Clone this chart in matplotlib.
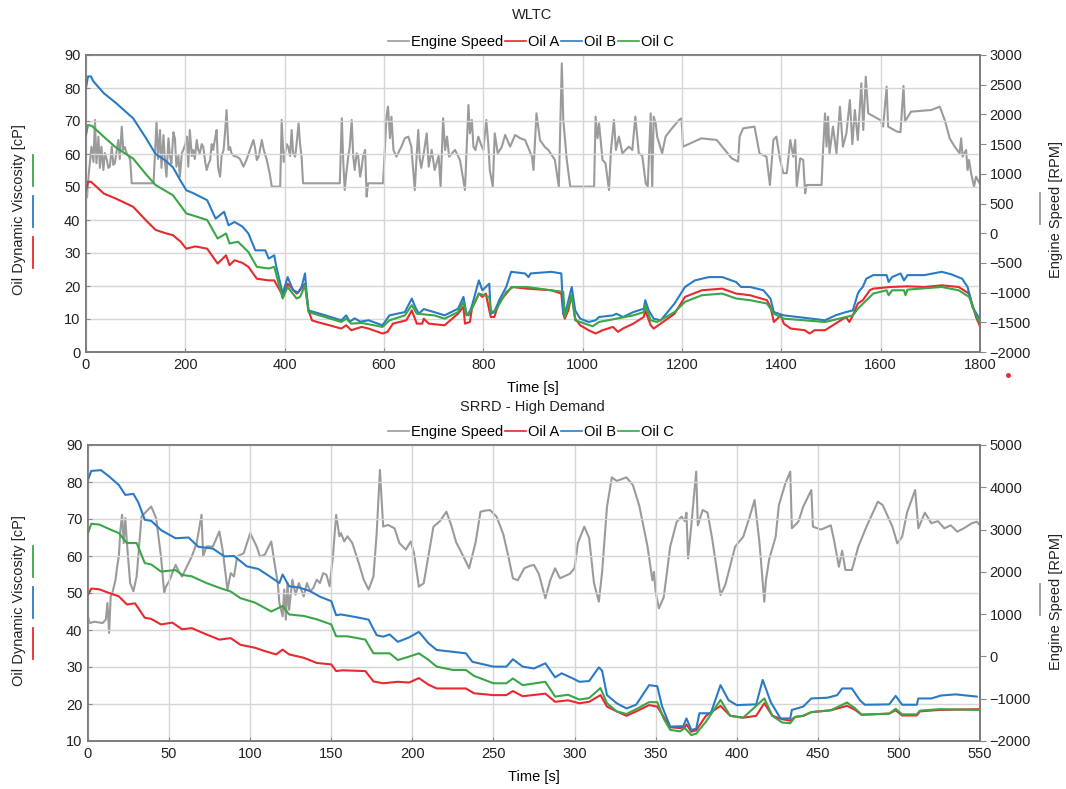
import matplotlib
matplotlib.use('Agg')
import matplotlib.pyplot as plt
from matplotlib.lines import Line2D

plt.rcParams['font.family'] = ['Liberation Sans', 'DejaVu Sans']
plt.rcParams['font.size'] = 10.5

# ---- WLTC (time [s], value) ----
wltc_speed = [(0, 900), (2, 600), (5, 950), (11, 1456), (15, 1200), (18, 1906), (21, 1177), (25, 1626), (28, 1100),
              (31, 1457), (35, 1064), (38, 1350), (42, 1233), (45, 1100), (48, 1120), (52, 1457), (55, 1150),
              (58, 1177), (62, 1400), (65, 1569), (68, 1250), (72, 1794), (75, 1401), (78, 1450), (82, 1345),
              (86, 1300), (89, 1233), (92, 840), (136, 840), (142, 1878), (145, 1250), (149, 1737), (152, 1100),
              (156, 1653), (159, 1200), (162, 952), (166, 1597), (169, 1300), (172, 1177), (176, 1700), (179, 1597),
              (182, 1120), (186, 1300), (189, 952), (193, 1350), (196, 1401), (200, 1500), (203, 1626), (206, 1120),
              (209, 1737), (213, 1300), (216, 1401), (219, 1250), (223, 1569), (226, 1400), (229, 1345), (233, 1500),
              (236, 1457), (240, 1200), (243, 1064), (246, 1150), (250, 1233), (253, 1500), (256, 1401), (260, 1600),
              (263, 1737), (266, 1100), (270, 952), (273, 1300), (277, 1401), (280, 1700), (283, 2074), (287, 1401),
              (290, 1450), (293, 1345), (298, 1300), (303, 1289), (310, 1250), (317, 1120), (323, 1233), (330, 1400),
              (337, 1569), (340, 1450), (344, 1233), (348, 1300), (354, 1569), (358, 1400), (364, 1233), (370, 1000),
              (374, 784), (391, 784), (394, 1906), (398, 1200), (401, 1345), (404, 1500), (407, 1457), (411, 1300),
              (414, 1737), (417, 1350), (421, 1289), (424, 1500), (428, 1850), (431, 1500), (434, 1289), (437, 840),
              (511, 840), (515, 1935), (518, 1200), (521, 728), (524, 1000), (528, 1289), (531, 1450), (535, 1906),
              (538, 1300), (541, 1064), (545, 1345), (548, 1300), (552, 952), (555, 1100), (558, 1300), (562, 1401),
              (565, 616), (568, 840), (598, 840), (602, 1457), (605, 1962), (608, 2130), (612, 1600), (615, 1962),
              (619, 1401), (625, 1289), (635, 1457), (642, 1600), (649, 1626), (655, 1457), (662, 728), (665, 1200),
              (669, 1737), (672, 1250), (675, 1100), (680, 1345), (686, 1681), (690, 1120), (696, 1401), (702, 1064),
              (710, 1300), (714, 784), (719, 1935), (723, 1401), (727, 1626), (731, 1289), (743, 1401), (753, 1233),
              (763, 728), (770, 2158), (773, 1681), (777, 1906), (780, 1457), (784, 1400), (790, 1626), (795, 1500),
              (800, 1401), (806, 1906), (810, 1500), (813, 1064), (819, 784), (823, 1681), (829, 1345), (837, 1450),
              (844, 1654), (854, 1457), (864, 1654), (874, 1600), (884, 1569), (898, 1289), (901, 1064), (907, 2018),
              (914, 1569), (924, 1450), (931, 1401), (944, 1233), (952, 784), (958, 2860), (961, 1906), (968, 1233),
              (975, 784), (1023, 784), (1026, 1962), (1030, 1600), (1033, 1850), (1040, 1233), (1046, 1177),
              (1053, 728), (1057, 1400), (1063, 1906), (1067, 1401), (1073, 1626), (1080, 1345), (1093, 1457),
              (1100, 1401), (1106, 1962), (1113, 1345), (1120, 1300), (1127, 840), (1131, 784), (1137, 2018),
              (1140, 784), (1143, 1962), (1147, 1850), (1150, 1626), (1160, 1345), (1167, 1626), (1177, 1737),
              (1194, 1906), (1199, 1935), (1202, 1457), (1239, 1597), (1270, 1569), (1300, 1261), (1313, 1205),
              (1316, 1626), (1323, 1765), (1346, 1794), (1356, 1345), (1370, 1289), (1377, 812), (1384, 1569),
              (1390, 1626), (1397, 1261), (1404, 1010), (1411, 1010), (1418, 1569), (1424, 1289), (1428, 1569),
              (1431, 784), (1438, 1261), (1444, 1233), (1448, 672), (1451, 812), (1481, 812), (1484, 1401),
              (1488, 2018), (1491, 1457), (1494, 1962), (1497, 1345), (1504, 1794), (1511, 1345), (1518, 2130),
              (1524, 1457), (1531, 1681), (1538, 2243), (1543, 1500), (1548, 2074), (1554, 1569), (1561, 2523),
              (1565, 1737), (1570, 2635), (1575, 2018), (1599, 1906), (1605, 1794), (1612, 2467), (1615, 1794),
              (1633, 1710), (1640, 1700), (1646, 2480), (1649, 1880), (1661, 2046), (1702, 2074), (1719, 2130),
              (1729, 1906), (1739, 1597), (1749, 1457), (1759, 1345), (1762, 1597), (1765, 1289), (1772, 1401),
              (1775, 1064), (1778, 1233), (1782, 1010), (1788, 784), (1792, 952), (1799, 840)]

wltc_oil_a = [(0, 49), (4, 51.6), (10, 51.6), (36, 48), (60, 46.5), (95, 44), (120, 40), (140, 37), (160, 36),
              (175, 35.4), (190, 33.5), (202, 31.3), (220, 32), (244, 31.3), (265, 26.8), (282, 29.3), (289, 26.3),
              (299, 27.8), (315, 27), (327, 25.8), (344, 22.2), (368, 21.7), (379, 21.7), (396, 17.2), (406, 20.7),
              (424, 17.7), (431, 18.7), (441, 20.7), (448, 12.6), (455, 9.6), (465, 9.1), (490, 8.1), (514, 7.1),
              (524, 8.1), (534, 6.6), (555, 7.6), (569, 7.1), (597, 5.6), (607, 6.1), (618, 8.6), (645, 9.6),
              (656, 12.6), (666, 8.6), (677, 8.6), (680, 10.1), (690, 8.6), (722, 8.1), (749, 11.6), (760, 13.7),
              (763, 8.6), (773, 9.1), (777, 13.2), (791, 17.7), (798, 16.7), (805, 17.7), (812, 12.6), (815, 10.6),
              (822, 10.6), (832, 15.1), (857, 19.7), (888, 19.2), (937, 18.7), (957, 17.7), (961, 11.6),
              (964, 10.1), (971, 12.6), (978, 17.2), (985, 10.1), (995, 8.1), (1012, 6.6), (1026, 5.6), (1040, 6.6),
              (1061, 7.6), (1071, 6.1), (1081, 7.1), (1102, 8.6), (1123, 10.6), (1126, 12.6), (1137, 8.1),
              (1143, 7.1), (1157, 8.6), (1185, 11.6), (1206, 16.7), (1240, 18.7), (1281, 19.2), (1309, 17.7),
              (1337, 17.2), (1371, 15.7), (1378, 13.7), (1385, 9.1), (1392, 10.1), (1399, 11.1), (1405, 8.6),
              (1419, 7.1), (1447, 6.6), (1457, 5.6), (1467, 6.6), (1488, 6.6), (1509, 8.6), (1530, 10.6),
              (1537, 9.1), (1544, 11.1), (1554, 14.7), (1564, 15.7), (1578, 18.7), (1585, 19.2), (1620, 19.7),
              (1654, 19.9), (1688, 19.7), (1723, 20.2), (1757, 19.7), (1778, 17.7), (1792, 10.6), (1799, 8.1)]

wltc_oil_b = [(0, 80), (4, 83.5), (10, 83.5), (15, 82), (36, 78.4), (60, 75.5), (95, 70.8), (120, 65), (140, 60),
              (160, 58), (175, 56), (190, 52), (202, 49), (215, 48.2), (244, 46), (261, 40.4), (278, 42.5),
              (287, 38.4), (299, 39.4), (315, 38), (327, 35.9), (341, 30.8), (361, 30.8), (368, 28.3), (379, 29.3),
              (383, 26), (396, 17.7), (406, 22.7), (417, 18.7), (427, 18), (434, 19.7), (441, 23.8), (444, 18),
              (448, 12.6), (480, 11.2), (514, 9.6), (524, 11.1), (531, 9.2), (541, 10.2), (552, 9.2), (569, 9.6),
              (597, 8.1), (611, 11.1), (642, 12.1), (656, 16.2), (663, 13.6), (670, 11.6), (680, 13), (701, 12.1),
              (722, 11.1), (749, 13.1), (760, 16.7), (766, 11.6), (770, 11.1), (777, 14), (791, 21.7), (798, 18.7),
              (805, 19.7), (812, 20.7), (815, 11.6), (822, 12.1), (832, 15.7), (846, 19.7), (856, 24.3),
              (884, 23.8), (891, 22.7), (895, 23.8), (937, 24.3), (957, 23.8), (961, 11.6), (968, 13.6),
              (978, 19.7), (985, 12.6), (995, 10.1), (1012, 9.1), (1026, 9.6), (1033, 10.6), (1061, 11.1),
              (1068, 11.6), (1081, 10.6), (1102, 12.1), (1123, 13.1), (1126, 15.7), (1133, 12.6), (1143, 10.1),
              (1157, 9.6), (1171, 12.1), (1185, 14.7), (1206, 19.7), (1226, 21.7), (1254, 22.7), (1281, 22.7),
              (1309, 21.2), (1319, 19.7), (1337, 19.7), (1364, 18.7), (1378, 16.2), (1385, 12.1), (1405, 11.1),
              (1433, 10.6), (1461, 10.1), (1488, 9.6), (1509, 11.1), (1530, 12.1), (1544, 12.6), (1554, 17.7),
              (1558, 18.7), (1564, 19.7), (1571, 22.2), (1585, 23.3), (1612, 23.3), (1616, 21.2), (1623, 22.7),
              (1640, 23.8), (1647, 21.7), (1654, 23.3), (1688, 23.3), (1723, 24.3), (1743, 23.5), (1764, 22.2),
              (1775, 19.7), (1785, 13.6), (1799, 10.1)]

wltc_oil_c = [(0, 65.7), (4, 68.8), (12, 68.5), (36, 65.2), (60, 62), (95, 58.6), (120, 54), (140, 50.6),
              (175, 47.5), (202, 42), (244, 40), (265, 34.4), (282, 35.9), (289, 32.9), (306, 33.4), (327, 30.3),
              (344, 25.8), (368, 25.3), (379, 25.8), (396, 16.2), (406, 19.7), (424, 16.2), (431, 16.7),
              (441, 20.2), (448, 12.1), (514, 9.1), (524, 10.1), (534, 8.6), (555, 8.8), (597, 7.6), (611, 9.6),
              (642, 11.1), (656, 14.2), (666, 11.6), (701, 11.1), (722, 10.1), (749, 12.1), (760, 15.2),
              (766, 11.1), (777, 13.1), (791, 17.7), (812, 16.7), (815, 12.1), (825, 12.6), (846, 18.2),
              (860, 19.7), (888, 19.7), (937, 18.7), (961, 18.2), (964, 10.6), (978, 17.2), (985, 9.6), (995, 9.1),
              (1020, 7.8), (1033, 9.1), (1068, 10.1), (1102, 11.1), (1123, 12.1), (1126, 14.2), (1137, 9.6),
              (1150, 9.1), (1185, 12.1), (1206, 15.2), (1240, 17.2), (1281, 17.7), (1309, 16.2), (1337, 15.7),
              (1371, 14.7), (1385, 11.6), (1405, 10.1), (1447, 9.6), (1488, 9.1), (1516, 10.1), (1544, 11.1),
              (1554, 13.1), (1568, 15.2), (1585, 17.7), (1612, 18.7), (1616, 17.2), (1623, 18.7), (1647, 18.7),
              (1650, 17.2), (1654, 18.9), (1723, 19.7), (1757, 18.7), (1778, 16.7), (1792, 11.1), (1799, 9.1)]

# ---- SRRD - High Demand (time [s], value) ----
srrd_speed = [(0, 950), (1, 790), (4, 820), (9, 790), (11, 870), (12, 1265), (13, 555), (14, 1420), (15, 1500),
              (17, 1815), (18, 2130), (19, 2365), (20, 2995), (21, 3350), (22, 2680), (23, 3270), (24, 2680),
              (26, 1735), (28, 1540), (30, 1890), (33, 3310), (35, 3390), (39, 3545), (42, 3270), (45, 2365),
              (47, 1500), (48, 1650), (50, 1775), (54, 2165), (56, 2010), (58, 1890), (61, 2125), (64, 2365),
              (67, 2680), (70, 3350), (71, 2365), (73, 2600), (77, 2600), (81, 2955), (83, 2520), (86, 1580),
              (88, 1970), (90, 1890), (92, 2365), (96, 2440), (100, 2915), (104, 2600), (106, 2365), (109, 2405),
              (113, 2720), (115, 2210), (117, 1735), (118, 1265), (120, 950), (121, 1580), (122, 870), (123, 1735),
              (124, 1100), (126, 1815), (128, 1460), (130, 1735), (133, 1420), (135, 1735), (137, 1540),
              (139, 1620), (141, 1815), (143, 1735), (145, 1970), (147, 1930), (149, 1660), (151, 2365),
              (153, 3350), (155, 2840), (156, 2915), (158, 2720), (160, 2840), (163, 2680), (167, 2200),
              (170, 1815), (173, 1580), (176, 1890), (178, 2915), (180, 4410), (182, 3070), (185, 3110),
              (189, 3030), (192, 2680), (196, 2525), (199, 2720), (201, 2450), (204, 1650), (207, 1730),
              (210, 2400), (213, 3068), (217, 3200), (221, 3423), (224, 3100), (227, 2700), (231, 2400),
              (235, 2084), (239, 2700), (242, 3420), (245, 3450), (248, 3460), (252, 3300), (256, 2900),
              (259, 2400), (262, 1847), (265, 1800), (269, 2084), (273, 2150), (275, 2162), (278, 1950),
              (282, 1374), (285, 1800), (288, 2084), (291, 1850), (297, 1950), (300, 2084), (302, 2675),
              (306, 3068), (309, 2800), (312, 1730), (315, 1295), (317, 2000), (320, 3540), (323, 4235),
              (326, 4150), (332, 4235), (336, 4050), (340, 3550), (345, 2600), (348, 1800), (349, 2000),
              (350, 1530), (352, 1137), (355, 1400), (359, 2600), (363, 3186), (366, 3305), (368, 3200),
              (369, 3400), (370, 2320), (372, 3100), (375, 4370), (376, 3100), (379, 3463), (382, 3400),
              (385, 2753), (390, 1453), (393, 1700), (399, 2595), (404, 2830), (408, 3305), (411, 3700),
              (414, 2700), (417, 1295), (418, 1800), (420, 2300), (424, 2830), (426, 3580), (430, 4094),
              (433, 4370), (434, 3030), (438, 3186), (441, 3542), (446, 3936), (447, 3068), (452, 3000),
              (456, 3068), (458, 3100), (460, 2750), (463, 2120), (465, 2500), (467, 2045), (471, 2045),
              (475, 2600), (480, 3068), (487, 3660), (490, 3580), (496, 3068), (499, 2675), (502, 2830),
              (505, 3400), (510, 3936), (512, 3030), (516, 3400), (520, 3150), (524, 3200), (528, 3030),
              (532, 3100), (536, 2950), (540, 3030), (545, 3150), (548, 3186), (550, 3100)]

srrd_oil_a = [(0, 49.5), (2, 51.2), (7, 51), (13, 50), (19, 49.1), (24, 46.9), (29, 47.2), (35, 43.3), (39, 43),
              (45, 41.5), (52, 42), (58, 40.2), (64, 40.5), (73, 38.8), (81, 37.4), (88, 37.8), (94, 36),
              (103, 35.2), (109, 34.3), (116, 33.4), (120, 34.7), (124, 33.4), (133, 32.5), (141, 31.1),
              (150, 30.7), (153, 28.9), (157, 29.1), (171, 28.9), (176, 26.1), (182, 25.6), (191, 26), (198, 25.8),
              (204, 27), (210, 25.2), (215, 24.2), (225, 24.2), (233, 24.2), (238, 22.9), (250, 22.4), (258, 22.4),
              (262, 23.5), (268, 22.1), (282, 22.8), (288, 20.6), (296, 21), (303, 20.2), (309, 20.6), (316, 22.4),
              (320, 19.3), (326, 18), (332, 16.8), (338, 18), (346, 19.7), (351, 19.3), (355, 16.5), (359, 13.7),
              (365, 13.5), (368, 13.7), (369, 14.5), (372, 12.5), (375, 12.9), (381, 16.8), (390, 19.5),
              (396, 16.8), (404, 16.3), (412, 16.8), (417, 20.2), (422, 16.8), (428, 15.9), (433, 15.5),
              (436, 16.5), (441, 16.8), (446, 17.8), (458, 18.3), (468, 19.5), (473, 18.4), (477, 17.1),
              (494, 17.4), (498, 18.3), (502, 16.9), (511, 16.9), (513, 18), (525, 18.4), (550, 18.6)]

srrd_oil_b = [(0, 80.6), (2, 83), (8, 83.2), (13, 81.5), (19, 79.2), (23, 76.5), (28, 76.8), (31, 74.5),
              (35, 69.8), (39, 69.5), (45, 67), (54, 64.8), (62, 65), (68, 62.5), (77, 62), (84, 59.9), (90, 60),
              (98, 57.2), (105, 56.5), (112, 54.5), (118, 52.7), (120, 55), (124, 51.8), (130, 51.5), (137, 50.5),
              (143, 49), (150, 47.8), (153, 44), (156, 44.2), (165, 43.5), (173, 42.8), (178, 38.6), (182, 38.2),
              (186, 38.8), (191, 36.8), (198, 38), (204, 39.5), (210, 36.4), (215, 34.6), (225, 34.1), (233, 33.7),
              (237, 31.4), (250, 30.1), (258, 30.1), (262, 32.1), (268, 30.1), (275, 29.6), (282, 31), (288, 27.2),
              (292, 28.3), (299, 26.9), (303, 26), (309, 26.2), (315, 29.9), (317, 29), (320, 22.4), (326, 20.2),
              (332, 18.8), (338, 19.8), (346, 25.1), (351, 24.8), (354, 19.3), (359, 13.9), (367, 14), (369, 16.1),
              (372, 13), (375, 13.3), (377, 17.5), (384, 17.5), (390, 25.1), (395, 21), (400, 19.7), (412, 19.9),
              (416, 26.5), (421, 20.5), (427, 16.1), (433, 16.1), (434, 18.4), (441, 19.3), (446, 21.5),
              (456, 21.7), (462, 22.4), (465, 24.2), (471, 24.2), (476, 21), (479, 19.8), (494, 19.9), (498, 22.2),
              (502, 19.8), (511, 19.8), (512, 21.5), (520, 21.5), (526, 22.3), (535, 22.6), (548, 22)]

srrd_oil_c = [(0, 66.2), (2, 68.7), (7, 68.5), (13, 67.3), (19, 66.2), (24, 63.5), (30, 63.5), (35, 58.1),
              (39, 57.7), (45, 55.8), (54, 56.2), (58, 54.9), (64, 54.5), (73, 52.7), (81, 51.4), (88, 50.4),
              (94, 48.6), (103, 47.4), (113, 45), (120, 46.5), (124, 44.2), (133, 43.8), (141, 42.9), (150, 41.5),
              (153, 38.3), (160, 38.3), (171, 37.4), (176, 33.7), (182, 33.7), (186, 33.7), (191, 31.9),
              (198, 32.8), (204, 33.7), (210, 31.9), (215, 30.1), (225, 29.2), (233, 29.2), (238, 27.6),
              (250, 25.6), (258, 25.6), (262, 26.9), (268, 25.1), (282, 26), (288, 22), (296, 22.5), (303, 21.2),
              (309, 21.6), (316, 24.3), (320, 20.2), (326, 18), (332, 17.3), (338, 18.6), (346, 20.5), (351, 20.5),
              (355, 16), (359, 13), (365, 12.6), (368, 13.5), (372, 11.6), (375, 12), (381, 15.2), (390, 21.1),
              (396, 16.8), (404, 16.3), (417, 21.5), (422, 16.8), (428, 15), (433, 14.8), (436, 16.5), (441, 16.8),
              (446, 17.8), (458, 18.3), (468, 20.4), (473, 18.8), (477, 17.1), (494, 17.4), (498, 18.7),
              (502, 17.2), (511, 17.2), (513, 18.2), (525, 18.6), (550, 18.4)]

GRAY = '#9b9b9b'
RED = '#e8292e'
BLUE = '#2b7bc4'
GREEN = '#3aa647'

W, H = 1066, 789
fig = plt.figure(figsize=(W / 100, H / 100), dpi=100)


def fx(px):
    return px / W


def fy(py):
    return 1 - py / H


def panel(rect, title, title_y, leg_y, speed, oils, xmax, xstep, ylo, rlo, rhi, rstep, lab_y):
    ax = fig.add_axes(rect)
    ax2 = ax.twinx()
    ax.set_zorder(ax2.get_zorder() + 1)
    ax.patch.set_visible(False)

    t, v = zip(*speed)
    ax2.plot(t, v, color=GRAY, lw=1.5, label='Engine Speed')
    for (name, col), d in zip([('Oil A', RED), ('Oil B', BLUE), ('Oil C', GREEN)], oils):
        t, v = zip(*d)
        ax.plot(t, v, color=col, lw=1.5, label=name)

    ax.set_xlim(0, xmax)
    ax.set_xticks(range(0, xmax + 1, xstep))
    ax.set_ylim(ylo, 90)
    ax.set_yticks(range(ylo, 91, 10))
    ax2.set_ylim(rlo, rhi)
    ax2.set_yticks(range(rlo, rhi + 1, rstep))
    ax.grid(True, color='#d6d6d6', lw=1.0)
    ax.set_axisbelow(True)
    ax.set_xlabel('Time [s]', labelpad=7)

    for a in (ax, ax2):
        for s in a.spines.values():
            s.set_color('#7a7a7a')
            s.set_linewidth(1.2)
    ax.tick_params(axis='both', direction='in', length=3, color='#888888', labelcolor='#222222', pad=4)
    ax2.tick_params(axis='y', direction='out', length=4, color='#888888', labelcolor='#222222', pad=3)

    fig.text(fx(532), fy(title_y), title, ha='center', va='center', fontsize=10.5, color='#222222')
    handles = [Line2D([], [], color=c, lw=1.2) for c in (GRAY, RED, BLUE, GREEN)]
    fig.legend(handles, ['Engine Speed', 'Oil A', 'Oil B', 'Oil C'], loc='center',
               bbox_to_anchor=(fx(531), fy(leg_y)), ncol=4, frameon=False, handlelength=1.4,
               handletextpad=0.15, columnspacing=0.15, borderaxespad=0, fontsize=10.5)

    # axis titles with colour keys
    fig.text(fx(19), fy(lab_y), 'Oil Dynamic Viscosity [cP]', rotation=90, ha='center', va='center',
             color='#222222')
    for i, col in enumerate([GREEN, BLUE, RED]):
        y0 = lab_y - 55 + i * 41
        fig.add_artist(Line2D([fx(33), fx(33)], [fy(y0), fy(y0 + 31)], color=col, lw=1.3))
    fig.text(fx(1056), fy(lab_y), 'Engine Speed [RPM]', rotation=90, ha='center', va='center', color='#222222')
    fig.add_artist(Line2D([fx(1040), fx(1040)], [fy(lab_y - 17), fy(lab_y + 14)], color=GRAY, lw=1.3))
    return ax


panel([fx(86), fy(352), fx(980) - fx(86), fy(55) - fy(352)], 'WLTC', 15, 42,
      wltc_speed, [wltc_oil_a, wltc_oil_b, wltc_oil_c], 1800, 200, 0, -2000, 3000, 500, 210)
panel([fx(88), fy(741), fx(980) - fx(88), fy(445) - fy(741)], 'SRRD - High Demand', 407, 432,
      srrd_speed, [srrd_oil_a, srrd_oil_b, srrd_oil_c], 550, 50, 10, -2000, 5000, 1000, 601)

fig.add_artist(Line2D([fx(1008)], [fy(375)], marker='o', ms=2.5, color=RED, lw=0))

fig.savefig('out.png', dpi=100)
